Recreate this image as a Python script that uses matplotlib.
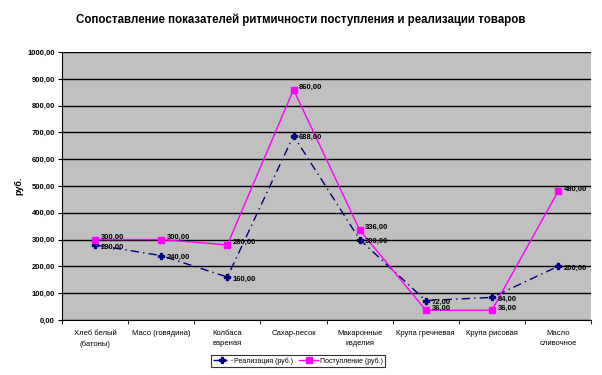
import matplotlib.pyplot as plt
import numpy as np

plt.rcParams['font.family'] = ['Liberation Sans', 'DejaVu Sans']

categories = ["Хлеб белый\n(батоны)", "Масо (говядина)", "Колбаса\nвареная", "Сахар-песок",
              "Макаронные\nизделия", "Крупа гречневая", "Крупа рисовая", "Масло\nсливочное"]
realiz = [280, 240, 160, 688, 300, 72, 84, 200]
postup = [300, 300, 280, 860, 336, 36, 36, 480]

def fmt(v):
    return ("%.2f" % v).replace(".", ",")

fig = plt.figure(figsize=(6.02, 3.75), dpi=100)
ax = fig.add_axes([0.103, 0.147, 0.879, 0.714])
ax.set_facecolor("#C0C0C0")

x = np.arange(len(categories))
ax.plot(x, realiz, color="#000080", linestyle=(0, (6, 3, 1, 3)), linewidth=1,
        marker="P", markersize=4, label="Реализация (руб.)", zorder=3)
ax.plot(x, postup, color="#FF00FF", linewidth=1, marker="s", markersize=5,
        label="Поступление (руб.)", zorder=3)

for xi, v in zip(x, realiz):
    ax.annotate(fmt(v), (xi, v), xytext=(4, -1.5), textcoords="offset points",
                fontsize=5.5, fontweight="bold", va="center", ha="left")
for xi, v in zip(x, postup):
    ax.annotate(fmt(v), (xi, v), xytext=(4, 1.5), textcoords="offset points",
                fontsize=5.5, fontweight="bold", va="center", ha="left")

ax.set_ylim(0, 1000)
ax.set_xlim(-0.5, len(categories) - 0.5)
ax.set_yticks(range(0, 1001, 100))
ax.set_yticklabels([fmt(v) for v in range(0, 1001, 100)], fontsize=5.5, fontweight="bold")
ax.yaxis.grid(True, color="black", linewidth=1)
ax.set_axisbelow(True)
ax.set_xticks(x)
ax.set_xticklabels(categories, fontsize=5.5, linespacing=1.7)
ax.tick_params(axis="x", length=0, pad=7)
ax.set_xticks(np.arange(-0.5, len(categories)), minor=True)
ax.tick_params(axis="x", which="minor", length=3, color="black")
ax.tick_params(axis="y", length=3, pad=2)
for s in ["top", "right"]:
    ax.spines[s].set_visible(False)
ax.set_ylabel("руб.", fontsize=6.5, fontweight="bold", labelpad=3)

fig.suptitle("Сопоставление показателей ритмичности поступления и реализации товаров",
             x=0.5, y=0.965, fontsize=8.3, fontweight="bold")

leg = fig.legend(loc="center", bbox_to_anchor=(0.495, 0.037), ncol=2, fontsize=5,
                 frameon=True, fancybox=False, edgecolor="black", handlelength=2.8,
                 columnspacing=0.8, borderpad=0.3, handletextpad=0.3)
leg.get_frame().set_linewidth(0.8)

fig.savefig("out.png", dpi=100)
